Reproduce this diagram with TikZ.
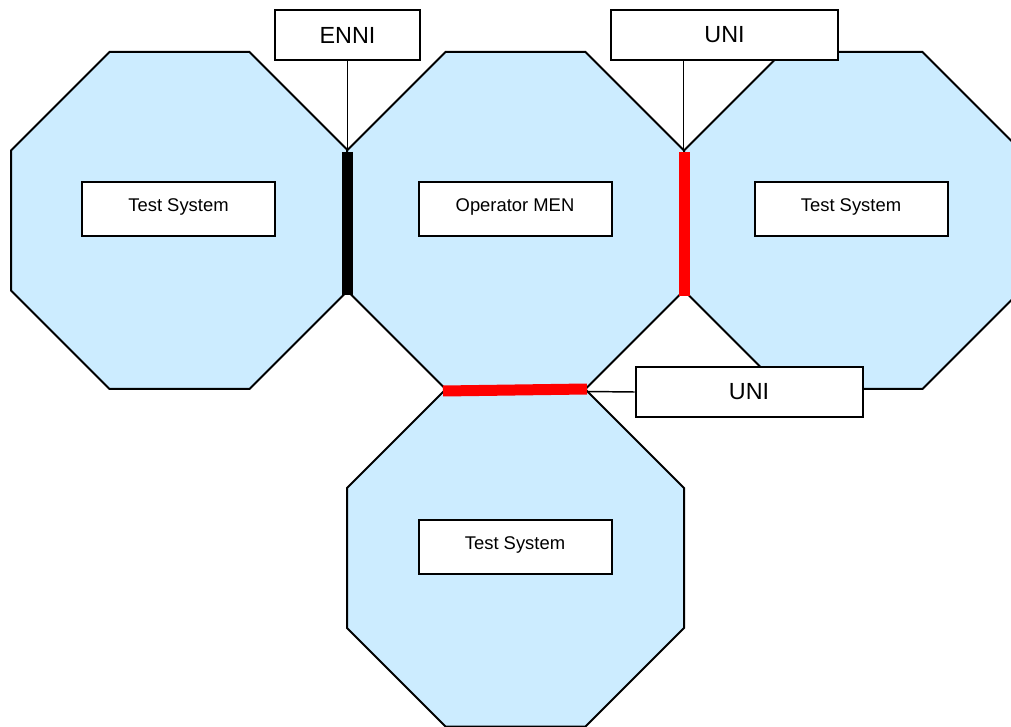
\documentclass[tikz,border=0pt]{standalone}
\usepackage{fontspec}
\setmainfont{Liberation Sans}
\definecolor{octfill}{RGB}{204,236,255}
\begin{document}
\begin{tikzpicture}[x=0.75pt,y=-0.75pt,
  octa/.style={fill=octfill,draw=black,line width=1.5pt,line join=miter},
  bigbox/.style={draw=black,fill=white,line width=1.5pt,inner sep=0pt,minimum height=37.5pt,font=\fontsize{17.5}{20}\selectfont},
  sysbox/.style={draw=black,fill=white,line width=1.5pt,inner sep=0pt,minimum width=144.75pt,minimum height=40.5pt},
  systext/.style={inner sep=0pt,font=\fontsize{13.8}{16}\selectfont},
  bar/.style={line width=8.25pt},
  conn/.style={draw=black,line width=1.1pt}]
\useasboundingbox (0,0) rectangle (1011,727);
% octagons
\foreach \cx/\cy in {179.5/220.5, 515.5/220.5, 852.5/220.5, 515.5/558}
  \draw[octa,shift={(\cx,\cy)}] (-168.5,-70) -- (-168.5,70) -- (-70,168.5) -- (70,168.5)
     -- (168.5,70) -- (168.5,-70) -- (70,-168.5) -- (-70,-168.5) -- cycle;
% interface bars
\draw[bar,black] (347.5,152) -- (347.5,295);
\draw[bar,red] (684,152) -- (684,296);
\draw[bar,red] (443,391) -- (587,389);
% connection points
\coordinate (p1) at (347.5,150);
\coordinate (p2) at (683.5,150);
\coordinate (p3) at (587,391.5);
% label boxes
\node[bigbox,minimum width=108.75pt] (enni) at (347.5,35) {ENNI};
\node[bigbox,minimum width=170.25pt] (uni1) at (724.5,35) {UNI};
\node[bigbox,minimum width=170.25pt] (uni2) at (749,392) {UNI};
\draw[conn] (enni.south) -- (p1);
\draw[conn] (p2 |- uni1.south) -- (p2);
\draw[conn] (uni2.west) -- (p3);
% system boxes
\node[sysbox] (b1) at (178.5,209) {};
\node[sysbox] (b2) at (515,209) {};
\node[sysbox] (b3) at (851,209) {};
\node[sysbox] (b4) at (515,547) {};
\node[systext] (t1) at (178.5,207) {Test System};
\node[systext] (t2) at (515,207) {Operator MEN};
\node[systext] (t3) at (851,207) {Test System};
\node[systext] (t4) at (515,545) {Test System};
\end{tikzpicture}
\end{document}
